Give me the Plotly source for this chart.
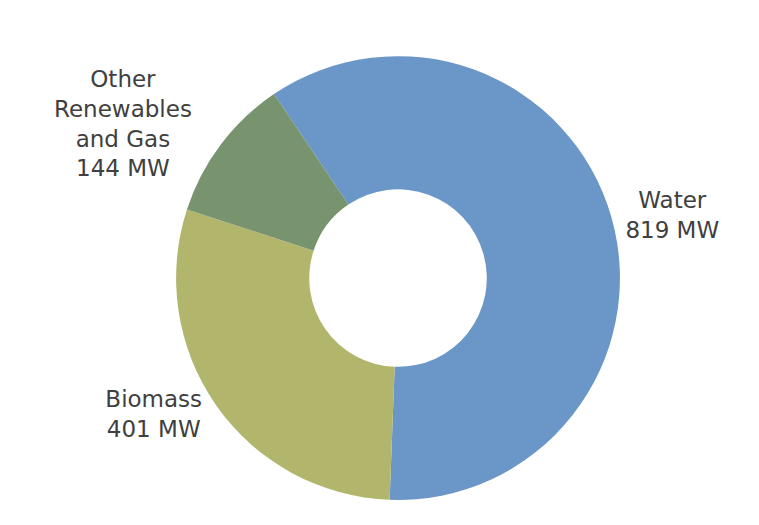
import plotly.graph_objects as go

labels = ["Water", "Biomass", "Other<br>Renewables<br>and Gas"]
values = [819, 401, 144]
colors = ["#6A96C8", "#B2B66C", "#78946F"]

fig = go.Figure(go.Pie(
    labels=labels,
    values=values,
    hole=0.40,
    sort=False,
    direction="clockwise",
    rotation=326,
    marker=dict(colors=colors, line=dict(width=0)),
    texttemplate="%{label}<br>%{value} MW",
    textposition="outside",
    textfont=dict(family="DejaVu Sans", size=23, color="#404040"),
    outsidetextfont=dict(family="DejaVu Sans", size=23, color="#404040"),
    domain=dict(x=[0.2319, 0.8169], y=[0.0476, 0.893]),
    showlegend=False,
    hoverinfo="label+value",
    automargin=False,
))

fig.update_layout(
    width=759, height=525,
    margin=dict(l=0, r=0, t=0, b=0),
    paper_bgcolor="#FFFFFF",
    plot_bgcolor="#FFFFFF",
)

fig.write_html("out.html")
